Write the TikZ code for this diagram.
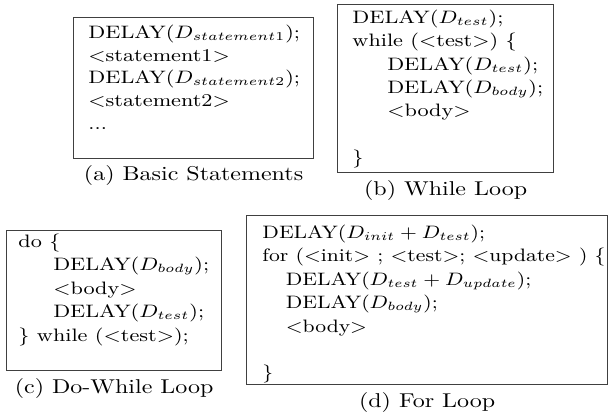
\documentclass[tikz,border=0pt]{standalone}
\tikzset{
  frame/.style={draw=black!75,line width=0.6pt,anchor=north west,inner sep=0pt},
  code/.style={anchor=north west,align=left,font=\fontsize{9}{11.7}\selectfont,xscale=1.2,inner sep=0pt},
  caption/.style={anchor=north,font=\normalsize,xscale=1.2,inner sep=0pt}
}
\newcommand{\ind}{\hspace*{14.5pt}}
\newcommand{\indd}{\hspace*{10pt}}
\begin{document}
\begin{tikzpicture}[x=0.5pt,y=-0.5pt]
\useasboundingbox (0,0) rectangle (608,416);
% (a) basic statements
\node[frame,minimum width=120pt,minimum height=70.5pt] (boxA) at (73,17) {};
\node[code,font=\fontsize{9}{11.35}\selectfont] (codeA) at ([shift={(15,7.5)}]boxA.north west)
  {DELAY($D_{statement1}$);\\
   $<$statement1$>$\\
   DELAY($D_{statement2}$);\\
   $<$statement2$>$\\
   ...};
\node[caption] (capA) at ([shift={(0,6)}]boxA.south) {(a) Basic Statements};
% (b) while loop
\node[frame,minimum width=108pt,minimum height=84pt] (boxB) at (337,4) {};
\node[code] (codeB) at ([shift={(15,5.5)}]boxB.north west)
  {DELAY($D_{test}$);\\
   while ($<$test$>$) \{\\
   \ind DELAY($D_{test}$);\\
   \ind DELAY($D_{body}$);\\
   \ind $<$body$>$\\
   \mbox{}\\
   \}};
\node[caption] (capB) at ([shift={(0,6.5)}]boxB.south) {(b) While Loop};
% (c) do-while loop
\node[frame,minimum width=107.5pt,minimum height=70pt] (boxC) at (6,230) {};
\node[code] (codeC) at ([shift={(12,3.5)}]boxC.north west)
  {do \{\\
   \ind DELAY($D_{body}$);\\
   \ind $<$body$>$\\
   \ind DELAY($D_{test}$);\\
   \} while ($<$test$>$);};
\node[caption] (capC) at ([shift={(0,6.5)}]boxC.south) {(c) Do-While Loop};
% (d) for loop
\node[frame,minimum width=180.5pt,minimum height=84.5pt] (boxD) at (246,215) {};
\node[code,xscale=0.975] (codeD) at ([shift={(16,9.5)}]boxD.north west)
  {DELAY($D_{init} + D_{test}$);\\
   for ($<$init$>$ ; $<$test$>$; $<$update$>$ ) \{\\
   \indd DELAY($D_{test} + D_{update}$);\\
   \indd DELAY($D_{body}$);\\
   \indd $<$body$>$\\
   \mbox{}\\
   \}};
\node[caption] (capD) at ([shift={(0,6.5)}]boxD.south) {(d) For Loop};
\end{tikzpicture}
\end{document}
